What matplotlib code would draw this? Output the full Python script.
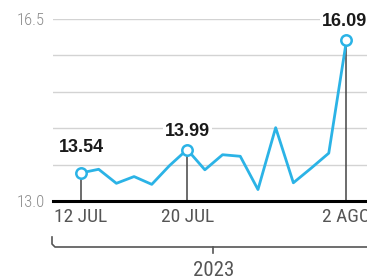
"""Line chart of a daily rate, July-August 2023, with highlighted values."""

import matplotlib

matplotlib.use("Agg")
import matplotlib.pyplot as plt

# business days shown on the x axis
dates = ["12 JUL", "13 JUL", "14 JUL", "17 JUL", "18 JUL", "19 JUL", "20 JUL",
         "21 JUL", "24 JUL", "25 JUL", "26 JUL", "27 JUL", "28 JUL", "31 JUL",
         "1 AGO", "2 AGO"]
values = [13.54, 13.61, 13.34, 13.47, 13.32, 13.68, 13.99,
          13.60, 13.89, 13.86, 13.22, 14.41, 13.35, 13.63,
          13.92, 16.09]

highlight_dates = ["12 JUL", "20 JUL", "2 AGO"]
highlight_labels = ["13.54", "13.99", "16.09"]

tick_dates = ["12 JUL", "20 JUL", "2 AGO"]
grid_values = [13.0, 13.7, 14.4, 15.1, 15.8, 16.5]
ytick_labels = ["13.0", "", "", "", "", "16.5"]
year_label = "2023"

LINE_COLOR = "#2bb3e6"
NARROW = ["Roboto Condensed", "DejaVu Sans"]
BOLD = ["Liberation Sans", "DejaVu Sans"]

W, H = 367, 279
fig = plt.figure(figsize=(W / 100, H / 100), dpi=100)
ax = fig.add_axes([53 / W, 78 / H, 314 / W, 182 / H])

x = list(range(len(dates)))
idx = {d: i for i, d in enumerate(dates)}

ax.set_xlim(-1.58, 16.16)
ax.set_ylim(13.0, 16.5)

for g in grid_values[1:]:
    ax.axhline(g, color="#d3d3d3", lw=1.0, zorder=1)

ax.plot(x, values, color=LINE_COLOR, lw=2.0, zorder=3)

# drop lines, markers and value labels
offsets = [(0, 17), (0, 10), (-2, 10)]
for d, lab, (dx, dy) in zip(highlight_dates, highlight_labels, offsets):
    i = idx[d]
    v = values[i]
    ax.plot([i, i], [13.0, v], color="#444444", lw=1.1, zorder=2)
    ax.plot(i, v, "o", ms=7.5, mfc="white", mec=LINE_COLOR, mew=1.8, zorder=4)
    ax.annotate(lab, (i, v), xytext=(dx * 0.72, dy * 0.72), textcoords="offset points",
                ha="center", va="bottom", fontsize=13, fontweight="bold",
                family=BOLD, color="#1a1a1a", zorder=5,
                bbox=dict(boxstyle="square,pad=0.1", fc="white", ec="none"))

for side in ["top", "right", "left"]:
    ax.spines[side].set_visible(False)
ax.spines["bottom"].set_color("black")
ax.spines["bottom"].set_linewidth(2.2)
ax.spines["bottom"].set_zorder(6)

ax.set_xticks([idx[d] for d in tick_dates], labels=tick_dates)
ax.set_yticks(grid_values, labels=ytick_labels)
ax.tick_params(axis="x", length=0, pad=5, labelsize=14, labelcolor="#555555")
ax.tick_params(axis="y", length=0, pad=6, labelsize=12, labelcolor="#8a8a8a")
for t in ax.get_xticklabels() + ax.get_yticklabels():
    t.set_family(NARROW)
for t in ax.get_yticklabels():
    t.set_fontweight("light")

# year bracket below the dates
fx = lambda px: px / W
fy = lambda py: 1 - py / H
bracket_x = [52, 52, 55, 380]
bracket_y = [237, 244, 247, 247]
fig.add_artist(plt.Line2D([fx(p) for p in bracket_x], [fy(p) for p in bracket_y],
                          color="#555555", lw=1.2))
fig.add_artist(plt.Line2D([fx(213), fx(213)], [fy(247), fy(253)],
                          color="#555555", lw=1.2))
fig.text(fx(214), fy(270), year_label, ha="center", va="center",
         fontsize=15, color="#555555", family=NARROW)

fig.savefig("out.png", dpi=100)
